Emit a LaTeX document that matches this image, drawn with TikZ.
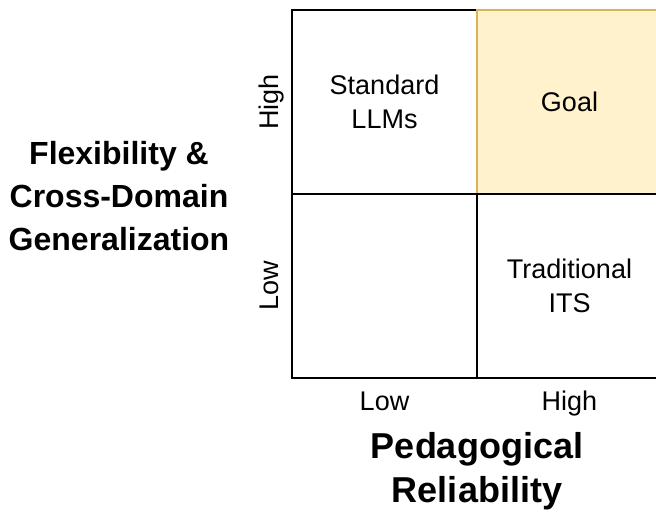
\documentclass[tikz,border=0pt]{standalone}
\usepackage{fontspec}
\setmainfont{Liberation Sans}
\usepackage{tikz}
\usetikzlibrary{positioning}
\definecolor{goalfill}{HTML}{FFF2CC}
\definecolor{goaldraw}{HTML}{D6B656}

\begin{document}
\begin{tikzpicture}[x=1pt, y=-1pt]
		\tikzstyle{cell} = [rectangle, minimum width = 185pt, minimum height = 184pt, line width = 2pt, draw=black, fill=white, align=center, inner sep=0pt, font=\fontsize{27}{34}\selectfont]
		\tikzstyle{tick} = [font=\fontsize{27}{30}\selectfont, inner sep=0pt]
		\tikzstyle{axis} = [font=\bfseries\fontsize{32}{43}\selectfont, align=center, inner sep=0pt]
		\clip (0,0) rectangle (656,515);
		
		\node[cell] at (384.5, 102) (llm) {Standard\\LLMs};
		\node[cell, fill=goalfill, draw=goaldraw] at (569.5, 102) (goal) {Goal};
		\node[cell] at (384.5, 286) (empty) {};
		\node[cell] at (569.5, 286) (its) {Traditional\\ITS};
		
		\node[tick, rotate=90, anchor=base] at (278, 102) (yhigh) {High};
		\node[tick, rotate=90, anchor=base] at (278, 286) (ylow) {Low};
		\node[tick, anchor=base] at (384.5, 410) (xlow) {Low};
		\node[tick, anchor=base] at (569.5, 410) (xhigh) {High};
		
		\node[axis] at (119, 196) (flex) {Flexibility \&\\Cross-Domain\\Generalization};
		\node[axis, font=\bfseries\fontsize{36}{44}\selectfont] at (477, 471) (ped) {Pedagogical\\Reliability};
		\end{tikzpicture}
\end{document}
